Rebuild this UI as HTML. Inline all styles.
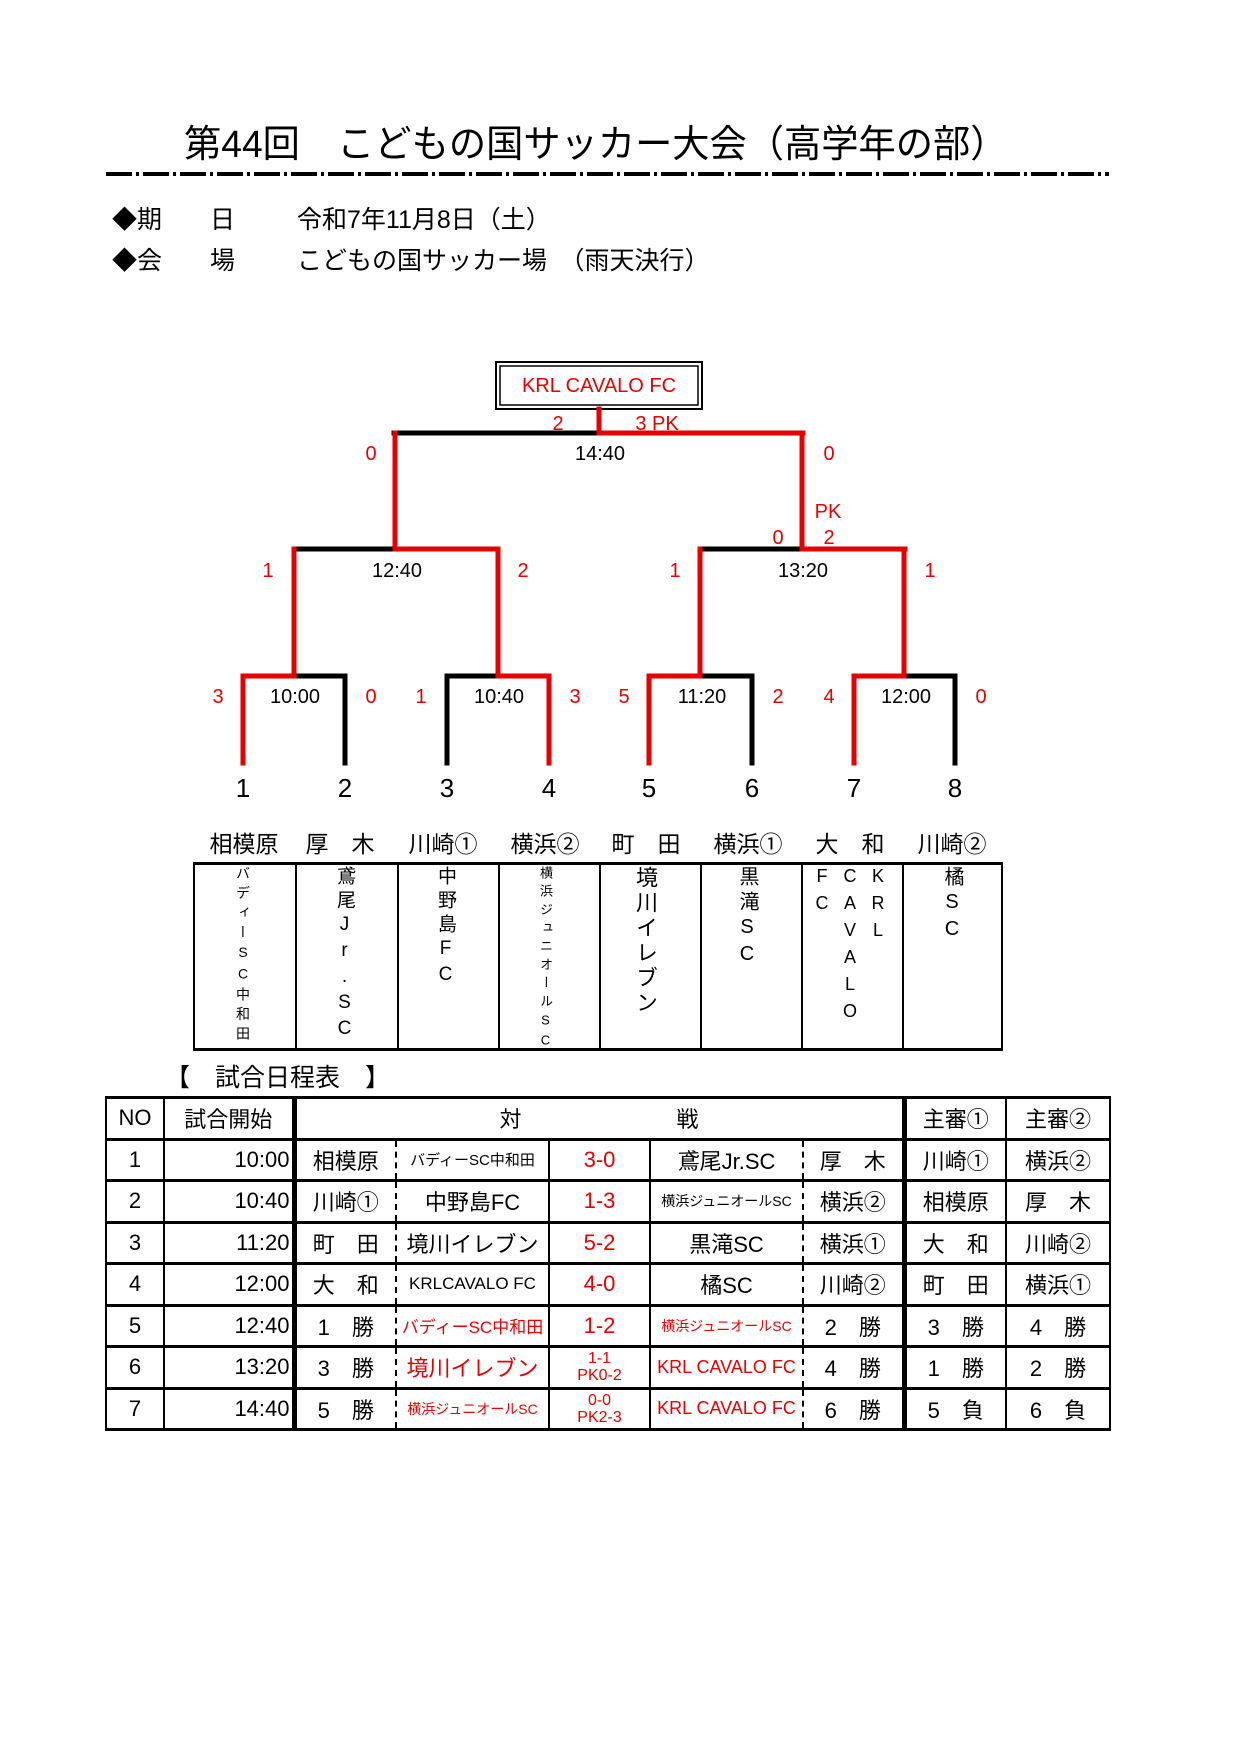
<!DOCTYPE html>
<html><head><meta charset="utf-8"><style>
*{margin:0;padding:0;box-sizing:border-box}
body{width:1240px;height:1755px;background:#fff;position:relative;overflow:hidden;font-family:"Liberation Sans","Noto Sans CJK JP",sans-serif;color:#000}
.a{position:absolute;white-space:nowrap;line-height:1}
.r{color:#e60000}
.v{position:absolute;writing-mode:vertical-rl;text-orientation:upright;line-height:1;white-space:nowrap}
table{position:absolute;left:105px;top:1096px;border-collapse:collapse;table-layout:fixed;width:1004px}
td{border:2px solid #000;border-top:3px solid #000;border-bottom:3px solid #000;height:41.5px;font-size:22px;text-align:center;white-space:nowrap;overflow:visible;padding:0}
td.tl{border-left:5px solid #000}
td.dl{border-left:2px dashed #000}
td.t{text-align:right;padding-right:2px}
.s{font-size:15px}
.sc{font-size:16px;line-height:17px}
</style></head><body>
<div class="a" style="left:184px;top:126px;font-size:38px;transform:scaleX(0.98);transform-origin:left">第44回　こどもの国サッカー大会（高学年の部）</div>
<div class="a" style="left:106px;top:172px;width:1003px;height:4px;background:repeating-linear-gradient(90deg,#000 0 26px,#fff 26px 30px,#000 30px 33px,#fff 33px 37px)"></div>
<div class="a" style="left:112px;top:208px;font-size:25px">◆期</div>
<div class="a" style="left:210px;top:208px;font-size:25px">日</div>
<div class="a" style="left:297px;top:208px;font-size:25px">令和7年11月8日（土）</div>
<div class="a" style="left:112px;top:249px;font-size:25px">◆会</div>
<div class="a" style="left:210px;top:249px;font-size:25px">場</div>
<div class="a" style="left:297px;top:249px;font-size:25px">こどもの国サッカー場　（雨天決行）</div>

<svg style="position:absolute;left:0;top:0" width="1240" height="820">
<rect x="496" y="362" width="206" height="47" fill="none" stroke="#000" stroke-width="2"/>
<rect x="500" y="366" width="198" height="39" fill="none" stroke="#000" stroke-width="1.5"/>
<g stroke-width="5" fill="none" stroke-linecap="square">
<path d="M394 433H599M294 549H395M700 549H802M294 676H345M447 676H498M700 676H752M904 676H955M345 676V763M447 676V763M752 676V763M955 676V763" stroke="#000"/>
<path d="M599 409V433M599 433H803M395 433V549M802 433V549M395 549H498M802 549H905M294 549V676M498 549V676M700 549V676M904 549V676M243 676H294M243 676V763M498 676H549M549 676V763M649 676H700M649 676V763M854 676H904M854 676V763" stroke="#e60000"/>
</g>
<g font-family="Liberation Sans, sans-serif" font-size="20" text-anchor="middle">
<text x="599" y="392" fill="#e60000">KRL CAVALO FC</text>
<text x="558" y="430" fill="#e60000">2</text>
<text x="657" y="430" fill="#e60000">3 PK</text>
<text x="600" y="460">14:40</text>
<text x="371" y="460" fill="#e60000">0</text>
<text x="829" y="460" fill="#e60000">0</text>
<text x="828" y="518" fill="#e60000">PK</text>
<text x="778" y="544" fill="#e60000">0</text>
<text x="829" y="544" fill="#e60000">2</text>
<text x="268" y="577" fill="#e60000">1</text>
<text x="397" y="577">12:40</text>
<text x="523" y="577" fill="#e60000">2</text>
<text x="675" y="577" fill="#e60000">1</text>
<text x="803" y="577">13:20</text>
<text x="930" y="577" fill="#e60000">1</text>
<text x="218" y="703" fill="#e60000">3</text><text x="295" y="703">10:00</text><text x="371" y="703" fill="#e60000">0</text>
<text x="421" y="703" fill="#e60000">1</text><text x="499" y="703">10:40</text><text x="575" y="703" fill="#e60000">3</text>
<text x="624" y="703" fill="#e60000">5</text><text x="702" y="703">11:20</text><text x="778" y="703" fill="#e60000">2</text>
<text x="829" y="703" fill="#e60000">4</text><text x="906" y="703">12:00</text><text x="981" y="703" fill="#e60000">0</text>
</g>
<g font-family="Liberation Sans, sans-serif" font-size="26" text-anchor="middle">
<text x="243" y="797">1</text><text x="345" y="797">2</text><text x="447" y="797">3</text><text x="549" y="797">4</text>
<text x="649" y="797">5</text><text x="752" y="797">6</text><text x="854" y="797">7</text><text x="955" y="797">8</text>
</g>
</svg>

<div style="position:absolute;top:833px;left:0;font-size:23px;line-height:24px">
<div class="a" style="left:244px;transform:translateX(-50%)">相模原</div>
<div class="a" style="left:340px;transform:translateX(-50%)">厚　木</div>
<div class="a" style="left:443px;transform:translateX(-50%)">川崎①</div>
<div class="a" style="left:545px;transform:translateX(-50%)">横浜②</div>
<div class="a" style="left:646px;transform:translateX(-50%)">町　田</div>
<div class="a" style="left:748px;transform:translateX(-50%)">横浜①</div>
<div class="a" style="left:850px;transform:translateX(-50%)">大　和</div>
<div class="a" style="left:952px;transform:translateX(-50%)">川崎②</div>
</div>
<div style="position:absolute;left:193px;top:862px;width:810px;height:189px;border:2px solid #000;border-top:3px solid #000;border-bottom:3px solid #000;background:linear-gradient(90deg,transparent 100px,#000 100px 102px,transparent 102px 202px,#000 202px 204px,transparent 204px 303px,#000 303px 305px,transparent 305px 404px,#000 404px 406px,transparent 406px 505px,#000 505px 507px,transparent 507px 606px,#000 606px 608px,transparent 608px 707px,#000 707px 709px,transparent 709px)"></div>
<div class="v" style="left:236px;top:866px;font-size:14px;letter-spacing:5.5px">バディーSC中和田</div>
<div class="v" style="left:335px;top:866px;font-size:19px;letter-spacing:5px">鳶尾Jr.SC</div>
<div class="v" style="left:436px;top:866px;font-size:19px;letter-spacing:5px">中野島FC</div>
<div class="v" style="left:539px;top:866px;font-size:13px;letter-spacing:5.3px">横浜ジュニオールSC</div>
<div class="v" style="left:634px;top:866px;font-size:22px;letter-spacing:3px">境川イレブン</div>
<div class="v" style="left:737px;top:866px;font-size:20px;letter-spacing:5px">黒滝SC</div>
<div class="v" style="left:869px;top:866px;font-size:18px;letter-spacing:7px">KRL</div>
<div class="v" style="left:841px;top:866px;font-size:18px;letter-spacing:7px">CAVALO</div>
<div class="v" style="left:813px;top:866px;font-size:18px;letter-spacing:7px">FC</div>
<div class="v" style="left:942px;top:866px;font-size:20px;letter-spacing:5px">橘SC</div>

<div class="a" style="left:165px;top:1066px;font-size:25px">【　試合日程表　】</div>

<table>
<colgroup><col style="width:58px"><col style="width:130px"><col style="width:102px"><col style="width:153px"><col style="width:101px"><col style="width:153px"><col style="width:101px"><col style="width:102px"><col style="width:104px"></colgroup>
<tr><td>NO</td><td>試合開始</td><td class="tl" colspan="5">対<span style="display:inline-block;width:155px"></span>戦</td><td class="tl">主審①</td><td>主審②</td></tr>
<tr><td>1</td><td class="t">10:00</td><td class="tl" style="border-right:none">相模原</td><td class="dl s">バディーSC中和田</td><td class="r">3-0</td><td style="border-right:none">鳶尾Jr.SC</td><td class="dl">厚　木</td><td class="tl">川崎①</td><td>横浜②</td></tr>
<tr><td>2</td><td class="t">10:40</td><td class="tl" style="border-right:none">川崎①</td><td class="dl">中野島FC</td><td class="r">1-3</td><td class="s" style="border-right:none;font-size:14px">横浜ジュニオールSC</td><td class="dl">横浜②</td><td class="tl">相模原</td><td>厚　木</td></tr>
<tr><td>3</td><td class="t">11:20</td><td class="tl" style="border-right:none">町　田</td><td class="dl">境川イレブン</td><td class="r">5-2</td><td style="border-right:none">黒滝SC</td><td class="dl">横浜①</td><td class="tl">大　和</td><td>川崎②</td></tr>
<tr><td>4</td><td class="t">12:00</td><td class="tl" style="border-right:none">大　和</td><td class="dl" style="font-size:17px">KRLCAVALO FC</td><td class="r">4-0</td><td style="border-right:none">橘SC</td><td class="dl">川崎②</td><td class="tl">町　田</td><td>横浜①</td></tr>
<tr><td>5</td><td class="t">12:40</td><td class="tl" style="border-right:none">1　勝</td><td class="dl r" style="font-size:17px">バディーSC中和田</td><td class="r">1-2</td><td class="r" style="border-right:none;font-size:14px">横浜ジュニオールSC</td><td class="dl">2　勝</td><td class="tl">3　勝</td><td>4　勝</td></tr>
<tr><td>6</td><td class="t">13:20</td><td class="tl" style="border-right:none">3　勝</td><td class="dl r">境川イレブン</td><td class="r sc">1-1<br>PK0-2</td><td class="r" style="border-right:none;font-size:18px">KRL CAVALO FC</td><td class="dl">4　勝</td><td class="tl">1　勝</td><td>2　勝</td></tr>
<tr><td>7</td><td class="t">14:40</td><td class="tl" style="border-right:none">5　勝</td><td class="dl r" style="font-size:14px">横浜ジュニオールSC</td><td class="r sc">0-0<br>PK2-3</td><td class="r" style="border-right:none;font-size:18px">KRL CAVALO FC</td><td class="dl">6　勝</td><td class="tl">5　負</td><td>6　負</td></tr>
</table>
</body></html>
